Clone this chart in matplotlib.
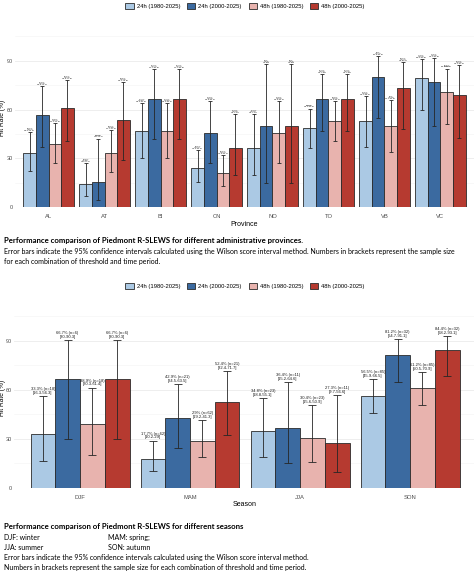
import numpy as np
import matplotlib
matplotlib.use("Agg")
import matplotlib.pyplot as plt
from matplotlib.patches import Patch

# ---- data: provinces ----
provinces = ["AL", "AT", "BI", "CN", "NO", "TO", "VB", "VC"]
series_labels = ["24h (1980-2025)", "24h (2000-2025)", "48h (1980-2025)", "48h (2000-2025)"]

prov_24_old = [33.3, 14.6, 46.7, 23.9, 36.4, 48.4, 52.9, 79.2]
prov_24_new = [56.5, 15.4, 66.7, 45.5, 50.0, 66.7, 80.0, 76.9]
prov_48_old = [38.6, 33.3, 46.7, 20.9, 45.5, 53.2, 50.0, 70.8]
prov_48_new = [60.9, 53.8, 66.7, 36.4, 50.0, 66.7, 73.3, 69.2]
prov_n_old = [57, 48, 30, 67, 22, 62, 34, 24]
prov_n_new = [23, 13, 15, 22, 4, 24, 15, 13]
prov_lo_24_old = [22.5, 7.2, 30.2, 15.3, 19.7, 36.4, 36.7, 59.5]
prov_hi_24_old = [46.3, 27.2, 63.9, 35.3, 57.0, 60.6, 68.5, 90.8]
prov_lo_24_new = [36.8, 4.3, 41.7, 26.9, 15.0, 46.7, 54.8, 49.7]
prov_hi_24_new = [74.4, 42.2, 84.8, 65.3, 88.0, 82.0, 92.9, 91.8]
prov_lo_48_old = [27.1, 21.7, 30.2, 12.9, 26.9, 40.9, 34.1, 50.8]
prov_hi_48_old = [51.6, 47.5, 63.9, 32.1, 65.3, 65.2, 65.9, 85.1]
prov_lo_48_new = [40.8, 29.1, 41.7, 19.7, 15.0, 46.7, 48.0, 42.4]
prov_hi_48_new = [77.8, 76.8, 84.8, 57.0, 88.0, 82.0, 89.1, 87.3]

# ---- data: seasons ----
seasons = ["DJF", "MAM", "JJA", "SON"]
sea_24_old = [33.3, 17.7, 34.8, 56.5]
sea_24_new = [66.7, 42.9, 36.4, 81.2]
sea_48_old = [38.9, 29.0, 30.4, 61.2]
sea_48_new = [66.7, 52.4, 27.3, 84.4]
sea_n_old = [18, 62, 23, 85]
sea_n_new = [6, 21, 11, 32]
sea_lo_24_old = [16.3, 10.2, 18.8, 45.9]
sea_hi_24_old = [56.3, 29.0, 55.1, 66.5]
sea_lo_24_new = [30.0, 24.5, 15.2, 64.7]
sea_hi_24_new = [90.3, 63.5, 64.6, 91.1]
sea_lo_48_old = [20.3, 19.2, 15.6, 50.5]
sea_hi_48_old = [61.4, 41.3, 50.9, 70.9]
sea_lo_48_new = [30.0, 32.4, 9.7, 68.2]
sea_hi_48_new = [90.3, 71.7, 56.6, 93.1]

colors = ["#abc9e4", "#3b6aa0", "#e8b3ae", "#b63a30"]
edge = "#2b2b2b"
tick_font = "Liberation Sans"
cap_font = "Lato"

W, H = 474, 573
fig = plt.figure(figsize=(W / 100, H / 100), dpi=100)


def px_axes(x0, y_top, x1, y_bot):
    return fig.add_axes([x0 / W, 1 - y_bot / H, (x1 - x0) / W, (y_bot - y_top) / H])


def grouped(ax, cats, vals, ns, los, his, xlabel, lab_size, cap, two_line):
    x = np.arange(len(cats))
    width = 0.9 / 4
    for k in range(4):
        xs = x + (k - 1.5) * width
        ax.bar(xs, vals[k], width, color=colors[k], edgecolor=edge, linewidth=0.6, zorder=2)
        v = np.array(vals[k])
        lo = np.array(los[k])
        hi = np.array(his[k])
        ax.errorbar(xs, v, yerr=[v - lo, hi - v], fmt="none", ecolor="#262626",
                    elinewidth=0.6, capsize=cap, capthick=0.6, zorder=3)
        for i in range(len(cats)):
            if two_line:
                s = f"{vals[k][i]:g}% (n={ns[k][i]})\n[{los[k][i]:g}-{his[k][i]:g}]"
            else:
                s = f"{vals[k][i]:g}%\n(n={ns[k][i]})\n[{los[k][i]:g}-{his[k][i]:g}]"
            ax.annotate(s, (xs[i], his[k][i]), xytext=(0, 0.8), textcoords="offset points",
                        ha="center", va="bottom", fontsize=lab_size, family=tick_font,
                        linespacing=0.95, color="#1a1a1a", zorder=4)
    ax.set_xticks(x)
    ax.set_xticklabels(cats, fontsize=4.2, color="#4d4d4d", family=tick_font)
    ax.set_xlim(-0.6, len(cats) - 0.4)
    ax.set_ylim(0, 110)
    ax.set_yticks([0, 30, 60, 90])
    ax.set_yticks([15, 45, 75, 105], minor=True)
    ax.set_yticklabels(["0", "30", "60", "90"], fontsize=4.0, color="#4d4d4d", family=tick_font)
    ax.grid(axis="y", which="major", color="#ebebeb", linewidth=0.6, zorder=0)
    ax.grid(axis="y", which="minor", color="#f4f4f4", linewidth=0.4, zorder=0)
    ax.tick_params(which="both", length=0, pad=1.2)
    ax.tick_params(axis="x", pad=5)
    for s in ax.spines.values():
        s.set_visible(False)
    ax.set_axisbelow(True)
    ax.set_xlabel(xlabel, fontsize=5, family=tick_font, labelpad=1)


handles = [Patch(facecolor=c, edgecolor=edge, linewidth=0.6) for c in colors]

# ---- top chart ----
ax1 = px_axes(15, 28, 474, 207.3)
grouped(ax1, provinces,
        [prov_24_old, prov_24_new, prov_48_old, prov_48_new],
        [prov_n_old, prov_n_new, prov_n_old, prov_n_new],
        [prov_lo_24_old, prov_lo_24_new, prov_lo_48_old, prov_lo_48_new],
        [prov_hi_24_old, prov_hi_24_new, prov_hi_48_old, prov_hi_48_new],
        "Province", 1.6, 1.4, False)
fig.text(3 / W, 1 - 118 / H, "Hit Rate (%)", rotation=90, fontsize=4.8, family=tick_font,
         ha="center", va="center")
fig.legend(handles, series_labels, loc="center", bbox_to_anchor=(245 / W, 1 - 6 / H),
           ncol=4, frameon=False, prop={"family": tick_font, "size": 4.2},
           handlelength=1.4, handleheight=1.4, columnspacing=1.2, handletextpad=0.5)

fig.text(4 / W, 1 - 241 / H,
         "Performance comparison of Piedmont R-SLEWS for different administrative provinces.",
         fontsize=5.6, fontweight="bold", family=cap_font, va="center")
fig.text(4 / W, 1 - 251.5 / H,
         "Error bars indicate the 95% confidence intervals calculated using the Wilson score interval method. "
         "Numbers in brackets represent the sample size",
         fontsize=5.0, family=cap_font, va="center")
fig.text(4 / W, 1 - 261.5 / H, "for each combination of threshold and time period.",
         fontsize=5.0, family=cap_font, va="center")

# ---- bottom chart ----
ax2 = px_axes(14, 308, 476, 488)
grouped(ax2, seasons,
        [sea_24_old, sea_24_new, sea_48_old, sea_48_new],
        [sea_n_old, sea_n_new, sea_n_old, sea_n_new],
        [sea_lo_24_old, sea_lo_24_new, sea_lo_48_old, sea_lo_48_new],
        [sea_hi_24_old, sea_hi_24_new, sea_hi_48_old, sea_hi_48_new],
        "Season", 3.0, 3.0, True)
fig.text(3 / W, 1 - 398 / H, "Hit Rate (%)", rotation=90, fontsize=4.8, family=tick_font,
         ha="center", va="center")
fig.legend(handles, series_labels, loc="center", bbox_to_anchor=(245 / W, 1 - 286 / H),
           ncol=4, frameon=False, prop={"family": tick_font, "size": 4.2},
           handlelength=1.4, handleheight=1.4, columnspacing=1.2, handletextpad=0.5)

fig.text(4 / W, 1 - 527 / H,
         "Performance comparison of Piedmont R-SLEWS for different seasons",
         fontsize=5.6, fontweight="bold", family=cap_font, va="center")
fig.text(4 / W, 1 - 537.5 / H, "DJF: winter", fontsize=5.0, family=cap_font, va="center")
fig.text(108 / W, 1 - 537.5 / H, "MAM: spring;", fontsize=5.0, family=cap_font, va="center")
fig.text(4 / W, 1 - 547.5 / H, "JJA: summer", fontsize=5.0, family=cap_font, va="center")
fig.text(108 / W, 1 - 547.5 / H, "SON: autumn", fontsize=5.0, family=cap_font, va="center")
fig.text(4 / W, 1 - 557.5 / H,
         "Error bars indicate the 95% confidence intervals calculated using the Wilson score interval method.",
         fontsize=5.0, family=cap_font, va="center")
fig.text(4 / W, 1 - 567.5 / H,
         "Numbers in brackets represent the sample size for each combination of threshold and time period.",
         fontsize=5.0, family=cap_font, va="center")

fig.savefig("out.png", dpi=100)
